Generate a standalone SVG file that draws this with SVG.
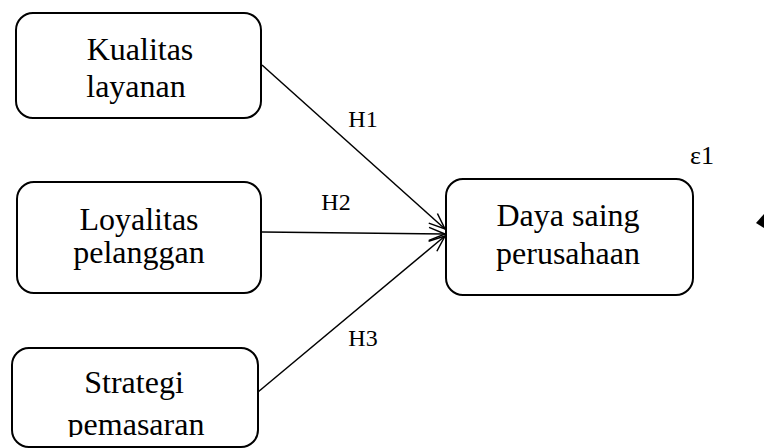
<svg xmlns="http://www.w3.org/2000/svg" width="764" height="448" viewBox="0 0 764 448">
<style>
.box{fill:#fff;stroke:#000;stroke-width:2}
.t{font-family:"Liberation Serif","Times New Roman",serif;font-size:32px;fill:#000;text-anchor:middle}
.l{font-family:"Liberation Serif","Times New Roman",serif;font-size:24px;fill:#000;text-anchor:middle}
.c{stroke:#000;stroke-width:1.5;fill:none;marker-end:url(#arr)}
</style>
<defs>
<marker id="arr" markerUnits="userSpaceOnUse" markerWidth="20" markerHeight="16" refX="17" refY="8" orient="auto">
<path d="M1,1.5 L17,8 L1,14.5" fill="none" stroke="#000" stroke-width="1.5"/>
</marker>
<clipPath id="clip3"><rect x="0" y="340" width="300" height="97"/></clipPath>
</defs>
<rect width="764" height="448" fill="#fff"/>
<g id="connectors">
<line class="c" x1="262" y1="65" x2="445" y2="229"/>
<line class="c" x1="262" y1="232" x2="445" y2="234"/>
<line class="c" x1="258" y1="392" x2="445" y2="236"/>
<polygon points="756,223 764,214 764,228" fill="#000"/>
</g>
<g id="n1">
<rect class="box" x="16" y="13" width="245" height="105" rx="17"/>
<text class="t" x="140" y="60">Kualitas</text>
<text class="t" x="136" y="97">layanan</text>
</g>
<g id="n2">
<rect class="box" x="17" y="182" width="244" height="111" rx="17"/>
<text class="t" x="139" y="230">Loyalitas</text>
<text class="t" x="139" y="263">pelanggan</text>
</g>
<g id="n3">
<rect class="box" x="12" y="348" width="246" height="99" rx="17"/>
<g clip-path="url(#clip3)">
<text class="t" x="134" y="393">Strategi</text>
<text class="t" x="136" y="435">pemasaran</text>
</g>
</g>
<g id="n4">
<rect class="box" x="446" y="179" width="247" height="116" rx="17"/>
<text class="t" x="568" y="226">Daya saing</text>
<text class="t" x="568" y="264">perusahaan</text>
</g>
<g id="labels">
<text class="l" x="363" y="127">H1</text>
<text class="l" x="336" y="210">H2</text>
<text class="l" x="363" y="346">H3</text>
<text class="l" x="702" y="164" style="font-size:26px">ε1</text>
</g>
</svg>
